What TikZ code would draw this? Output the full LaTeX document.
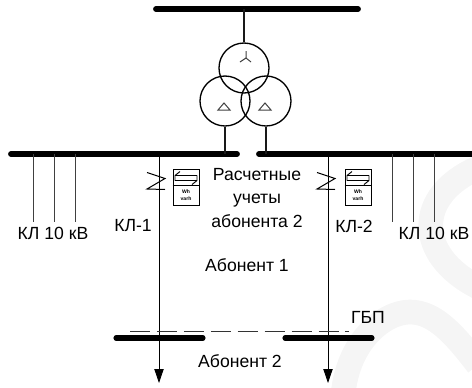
\documentclass[tikz,border=0pt]{standalone}
\usepackage{fontspec}
\setmainfont{Liberation Sans}
\usetikzlibrary{arrows.meta}
\tikzset{
  x=0.75pt,y=-0.75pt,
  bus/.style={line width=4.4pt,line cap=round},
  wire/.style={line width=0.8pt,draw=black!90},
  mainline/.style={line width=0.6pt,draw=black},
  feeder/.style={line width=0.7pt,draw=black!75},
  winding/.style={circle,draw,line width=1pt,minimum size=37.5pt,inner sep=0pt},
  glyph/.style={line width=0.75pt,draw=black!75},
  lbl/.style={inner sep=0pt,font=\fontsize{13.2pt}{16pt}\selectfont,align=center},
  meter/.style={draw,line width=0.6pt,minimum width=19.5pt,minimum height=27.5pt,inner sep=0pt},
  wash/.style={line width=18.5pt,draw=black!4,line cap=butt},
}
\begin{document}
\begin{tikzpicture}
\useasboundingbox (0,0) rectangle (472,387);
\begin{scope}
\clip (0,0) rectangle (472,387);
\draw[wash] (478,168) .. controls (415,195) and (415,255) .. (478,287);
\draw[wash] (343,395) .. controls (348,340) and (385,312) .. (410,312) .. controls (435,312) and (455,335) .. (478,365);
\end{scope}
% buses
\coordinate (topL) at (156,9); \coordinate (topR) at (358,9);
\coordinate (busAL) at (11,154); \coordinate (busAR) at (237,154);
\coordinate (busBL) at (259,154); \coordinate (busBR) at (476,154);
\coordinate (ab1L) at (116,338); \coordinate (ab1R) at (203,338);
\coordinate (ab2L) at (285,338); \coordinate (ab2R) at (372,338);
\draw[bus] (topL) -- (topR);
\draw[bus] (busAL) -- (busAR);
\draw[bus] (busBL) -- (busBR);
\draw[bus,line width=3.8pt] (ab1L) -- (ab1R);
\draw[bus,line width=3.8pt] (ab2L) -- (ab2R);
% transformer
\node[winding] (hv) at (244,68) {};
\node[winding] (lv1) at (225,101) {};
\node[winding] (lv2) at (266,101) {};
\coordinate (topTap) at (244,9);
\coordinate (tapA) at (225,154);
\coordinate (tapB) at (266,154);
\draw[wire] (topTap) -- (hv.north);
\draw[wire] (lv1.south) -- (tapA);
\draw[wire] (lv2.south) -- (tapB);
% winding symbols
\draw[glyph] (246,51) -- (246,58) -- (240,62) (246,58) -- (251,62);
\draw[glyph] (224,103) -- (218,110) -- (230,110) -- cycle;
\draw[glyph] (265,103) -- (259,110) -- (271,110) -- cycle;
% outgoing feeders
\foreach \n/\x in {a/33,b/54,c/75,d/392,e/413,f/434}{
  \coordinate (s\n) at (\x,154); \coordinate (t\n) at (\x,222);
  \draw[feeder] (s\n) -- (t\n);
}
% main lines
\coordinate (k1s) at (159,154); \coordinate (k1e) at (159,383);
\coordinate (k2s) at (328,154); \coordinate (k2e) at (328,383);
\draw[mainline,-{Triangle[width=7pt,length=10.5pt]}] (k1s) -- (k1e);
\draw[mainline,-{Triangle[width=7pt,length=10.5pt]}] (k2s) -- (k2e);
% ГБП
\coordinate (gbpL) at (130,331); \coordinate (gbpR) at (349,331);
\draw[line width=0.6pt,draw=black!80,dash pattern=on 15pt off 5.2pt] (gbpL) -- (gbpR);
% current transformers
\foreach \x in {146,316}{
  \draw[line width=0.75pt] (\x+1,172.5) -- (\x+19,178.5) -- (\x+1,189) -- (\x+19,189.5);
}
% meters
\foreach \n/\x in {m1/186,m2/358}{
  \node[meter] (\n) at (\x,187.5) {};
  \draw[line width=0.6pt] (\n.north west |- 0,185) -- (\n.north east |- 0,185);
  \draw[line width=0.7pt,line join=round] (\x-6,171.5) -- (\x-11,175.5) -- (\x+11,175.5)
        (\x-11,175.5) -- (\x-11,180.5) -- (\x+11,180.5) -- (\x+6,184.5)
        (\x+11,175.5) -- (\x+11,180.5);
  \node[inner sep=0pt,align=center,font=\fontsize{3.8pt}{5pt}\selectfont\bfseries] at (\x,195.5) {Wh\\varh};
}
% labels
\node[lbl] (l1) at (257,198) {Расчетные\\[1.6pt]учеты\\[1.6pt]абонента 2};
\node[lbl] (l2) at (247,265) {Абонент 1};
\node[lbl] (l3) at (240,361) {Абонент 2};
\node[lbl] (l4) at (133,226) {КЛ-1};
\node[lbl] (l5) at (354,226) {КЛ-2};
\node[lbl] (l6) at (53,233) {КЛ 10 кВ};
\node[lbl] (l7) at (434,233) {КЛ 10 кВ};
\node[lbl] (l8) at (368,317) {ГБП};
\end{tikzpicture}
\end{document}
